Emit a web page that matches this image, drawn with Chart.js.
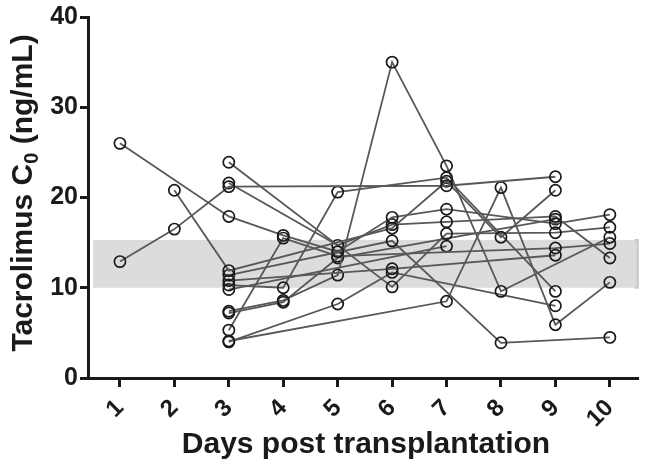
<!DOCTYPE html>
<html>
<head>
<meta charset="utf-8">
<script src="https://cdn.jsdelivr.net/npm/chart.js@4.4.0/dist/chart.umd.min.js"></script>
<style>
  html, body { margin: 0; padding: 0; background: #fff; }
  #wrap { width: 646px; height: 469px; }
</style>
</head>
<body>
<div id="wrap"><canvas id="chart" width="646" height="469"></canvas></div>
<script>
// days after transplantation (x categories)
const days = [1, 2, 3, 4, 5, 6, 7, 8, 9, 10];
const yTicks = [0, 10, 20, 30, 40];

// tacrolimus trough per patient, one value per day (null = not measured)
const patientA = [26.0, null, 17.9, 15.8, 14.0, 17.8, 18.7, null, 17.1, 18.1];
const patientB = [12.9, 16.5, 21.2, null, null, null, 21.3, null, 22.3, null];
const patientC = [null, 20.8, 11.9, null, null, 16.6, 21.8, 15.6, 20.8, null];
const patientD = [null, null, 23.9, null, null, 10.1, 16.0, null, 16.1, 16.7];
const patientE = [null, null, 21.6, null, 14.7, 17.0, 17.3, null, 17.9, 13.3];
const patientF = [null, null, 11.4, null, null, 15.2, null, 3.9, null, 4.5];
const patientG = [null, null, 10.8, null, null, 12.1, null, null, 13.6, null];
const patientH = [null, null, 10.3, 10.0, 20.6, null, 22.2, null, 9.6, null];
const patientI = [null, null, 4.1, null, null, null, 8.5, 21.1, 5.9, 10.6];
const patientJ = [null, null, 7.4, 8.6, 11.4, 35.0, 23.5, 9.6, null, 15.6];
const patientK = [null, null, 7.2, 8.4, 13.3, null, null, null, 17.6, null];
const patientL = [null, null, 5.3, 15.5, 13.5, null, null, null, 14.4, 14.9];
const patientM = [null, null, 4.0, null, 8.2, 11.7, null, null, 8.0, null];
const patientN = [null, null, 9.8, null, null, null, 14.6, null, null, null];

// target range shaded in grey
const targetLow = 10;
const targetHigh = 15.3;

const patients = [patientA, patientB, patientC, patientD, patientE, patientF, patientG,
  patientH, patientI, patientJ, patientK, patientL, patientM, patientN];

const datasets = patients.map(vals => ({
  data: days.map((d, i) => vals[i] === null ? null : { x: d, y: vals[i] }).filter(p => p),
  borderColor: "#585858",
  borderWidth: 1.8,
  pointRadius: 5.6,
  pointBorderWidth: 1.7,
  pointBorderColor: "#1a1a1a",
  pointBackgroundColor: "rgba(0,0,0,0)",
  tension: 0
}));

const font = "'Liberation Sans', Arial, sans-serif";

const bandPlugin = {
  id: "band",
  beforeDatasetsDraw(chart) {
    const { ctx, chartArea } = chart;
    const y = chart.scales.y;
    const top = y.getPixelForValue(targetHigh);
    const bot = y.getPixelForValue(targetLow);
    ctx.save();
    ctx.fillStyle = "#dcdcdc";
    ctx.fillRect(chartArea.left + 5, top, chartArea.right - chartArea.left - 5, bot - top);
    ctx.strokeStyle = "#c8c8c8";
    ctx.lineWidth = 2;
    ctx.beginPath();
    ctx.moveTo(chartArea.right - 4, top);
    ctx.lineTo(chartArea.right - 1, top);
    ctx.lineTo(chartArea.right - 1, bot);
    ctx.lineTo(chartArea.right - 4, bot);
    ctx.stroke();
    ctx.restore();
  }
};

const titlePlugin = {
  id: "titles",
  afterDraw(chart) {
    const { ctx } = chart;
    ctx.save();
    ctx.fillStyle = "#1a1a1a";
    // x title
    ctx.font = "bold 30px " + font;
    ctx.textAlign = "center";
    ctx.textBaseline = "middle";
    ctx.fillText("Days post transplantation", 366, 445);
    // y title with subscript 0
    const big = "bold 30px " + font;
    const small = "bold 20px " + font;
    const p1 = "Tacrolimus C", p2 = "0", p3 = " (ng/mL)";
    ctx.font = big; const w1 = ctx.measureText(p1).width; const w3 = ctx.measureText(p3).width;
    ctx.font = small; const w2 = ctx.measureText(p2).width;
    const total = w1 + w2 + w3;
    ctx.translate(21, 193);
    ctx.rotate(-Math.PI / 2);
    ctx.textAlign = "left";
    ctx.textBaseline = "alphabetic";
    let x = -total / 2;
    ctx.font = big; ctx.fillText(p1, x, 11); x += w1;
    ctx.font = small; ctx.fillText(p2, x, 17); x += w2;
    ctx.font = big; ctx.fillText(p3, x, 11);
    ctx.restore();
  }
};

new Chart(document.getElementById("chart"), {
  type: "line",
  data: { datasets },
  plugins: [bandPlugin, titlePlugin],
  options: {
    responsive: false,
    animation: false,
    layout: { padding: { top: 16, right: 6, left: 0, bottom: 0 } },
    plugins: { legend: { display: false }, tooltip: { enabled: false } },
    scales: {
      x: {
        type: "linear",
        min: 0.413,
        max: 10.53,
        afterBuildTicks: s => { s.ticks = days.map(v => ({ value: v })); },
        afterFit: s => { s.height = 91; },
        border: { color: "#1a1a1a", width: 3 },
        grid: { drawOnChartArea: false, tickLength: 9, tickWidth: 3, tickColor: "#1a1a1a" },
        ticks: {
          minRotation: 45, maxRotation: 45, padding: 7,
          color: "#1a1a1a", font: { family: font, size: 24, weight: "bold" },
          callback: v => String(v)
        }
      },
      y: {
        min: 0,
        max: 40,
        afterBuildTicks: s => { s.ticks = yTicks.map(v => ({ value: v })); },
        afterFit: s => { s.width = 88; },
        border: { color: "#1a1a1a", width: 3 },
        grid: { drawOnChartArea: false, tickLength: 8, tickWidth: 3, tickColor: "#1a1a1a" },
        ticks: {
          padding: 2,
          color: "#1a1a1a", font: { family: font, size: 25, weight: "bold" }
        }
      }
    }
  }
});
</script>
</body>
</html>
